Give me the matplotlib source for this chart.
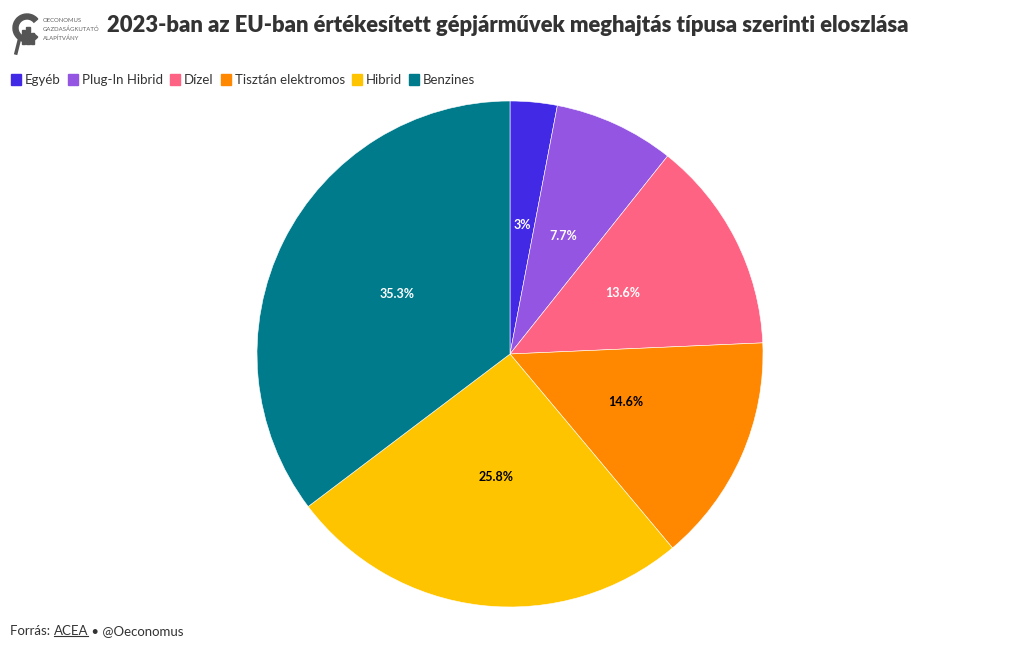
import matplotlib.pyplot as plt
from matplotlib.patches import FancyBboxPatch, Wedge
from matplotlib.transforms import offset_copy

categories = ["Egyéb", "Plug-In Hibrid", "Dízel", "Tisztán elektromos", "Hibrid", "Benzines"]
shares = [3, 7.7, 13.6, 14.6, 25.8, 35.3]
colors = ["#4129e6", "#9455e2", "#ff6384", "#ff8800", "#ffc400", "#007b8c"]
label_colors = ["white", "white", "white", "black", "black", "white"]

title = "2023-ban az EU-ban értékesített gépjárművek meghajtás típusa szerinti eloszlása"

plt.rcParams["font.family"] = ["Lato", "DejaVu Sans"]

fig = plt.figure(figsize=(10.2, 6.5), dpi=100)
W, H = 1020, 650

# pie: centre ~ (510, 354) px, radius ~ 253 px
cx, cy, r = 510, 354, 253
ax = fig.add_axes([(cx - r) / W, 1 - (cy + r) / H, 2 * r / W, 2 * r / H])
wedges, texts = ax.pie(shares, colors=colors, startangle=90, counterclock=False,
                       wedgeprops=dict(edgecolor="white", linewidth=0.4),
                       labels=[f"{v:g}%" for v in shares], labeldistance=0.5)
lift = offset_copy(ax.transData, fig=fig, x=0, y=3, units="points")
for t, c in zip(texts, label_colors):
    t.set_color(c)
    t.set_fontsize(9)
    t.set_fontweight("bold")
    t.set_ha("center")
    t.set_va("center_baseline")
    t.set_transform(lift)
ax.set_xlim(-1, 1)
ax.set_ylim(-1, 1)
ax.set_aspect("equal")

# title
fig.text(107 / W, 1 - 25 / H, title, fontsize=15.8, fontweight="heavy",
         color="#333333", va="center", ha="left")

# logo
lax = fig.add_axes([8 / W, 1 - 58 / H, 95 / W, 50 / H])
lax.set_xlim(0, 95)
lax.set_ylim(0, 50)
lax.axis("off")
lax.add_patch(Wedge((19, 30), 14, 40, 320, width=5, color="#555555"))
for x0, h in [(14, 14), (18.5, 17), (23, 11)]:
    lax.add_patch(plt.Rectangle((x0, 14), 3.5, h, color="#555555"))
lax.plot([11, 8], [17, 5], color="#555555", lw=2.5)
for i, s in enumerate(["OECONOMUS", "GAZDASÁGKUTATÓ", "ALAPÍTVÁNY"]):
    lax.text(35, 37 - i * 8.5, s, fontsize=4.3, color="#666666", va="center")

# legend
handles = [FancyBboxPatch((0, 0), 1, 1, boxstyle="round,pad=0.1", color=c) for c in colors]
leg = fig.legend(handles, categories, loc="upper left", bbox_to_anchor=(11 / W, 1 - 74 / H),
                 ncol=6, frameon=False, fontsize=9.5, handlelength=0.75, handleheight=0.95,
                 handletextpad=0.3, columnspacing=0.55, borderaxespad=0, borderpad=0)
for t in leg.get_texts():
    t.set_color("#333333")

# footer with underlined source
fig.canvas.draw()
rend = fig.canvas.get_renderer()
x = 10 / W
y = 1 - 631 / H
for part, underline in [("Forrás: ", False), ("ACEA", True), (" • @Oeconomus", False)]:
    t = fig.text(x, y, part, fontsize=9.5, color="#333333", va="center", ha="left")
    bb = t.get_window_extent(rend).transformed(fig.transFigure.inverted())
    if underline:
        fig.add_artist(plt.Line2D([bb.x0, bb.x1], [bb.y0 + 0.002, bb.y0 + 0.002],
                                  color="#333333", lw=0.8, transform=fig.transFigure))
    x = bb.x1

fig.savefig("out.png", dpi=100, facecolor="white")
